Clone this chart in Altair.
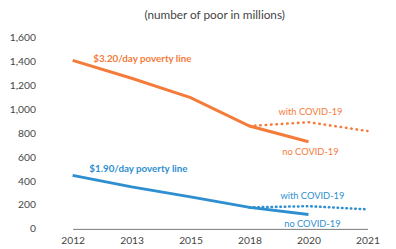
import altair as alt
import pandas as pd

years = ["2012", "2013", "2015", "2018", "2020", "2021"]
orange_base_years = ["2012", "2013", "2015", "2018", "2020"]
orange_base = [1412, 1262, 1100, 862, 730]
orange_covid_years = ["2018", "2020", "2021"]
orange_covid = [862, 894, 820]
blue_base_years = ["2012", "2013", "2015", "2018", "2020"]
blue_base = [448, 352, 268, 180, 120]
blue_covid_years = ["2018", "2020", "2021"]
blue_covid = [180, 190, 164]

label_texts = ["$3.20/day poverty line", "$1.90/day poverty line",
               "with COVID-19", "no COVID-19", "with COVID-19", "no COVID-19"]
label_years = ["2012", "2012", "2020", "2020", "2020", "2020"]
label_values = [1425, 505, 975, 645, 271, 41]
label_series = ["o", "b", "o", "o", "b", "b"]
label_kind = ["title", "title", "note", "note", "note", "note"]

ORANGE = "#F47B3A"
BLUE = "#2E8FD0"
FONT = "Lato"

rows = []
for y, v in zip(orange_base_years, orange_base):
    rows.append({"year": y, "value": v, "series": "o_base"})
for y, v in zip(orange_covid_years, orange_covid):
    rows.append({"year": y, "value": v, "series": "o_covid"})
for y, v in zip(blue_base_years, blue_base):
    rows.append({"year": y, "value": v, "series": "b_base"})
for y, v in zip(blue_covid_years, blue_covid):
    rows.append({"year": y, "value": v, "series": "b_covid"})
df = pd.DataFrame(rows)

labels = pd.DataFrame({"year": label_years, "value": label_values, "text": label_texts,
                       "series": label_series, "kind": label_kind})

xscale = alt.Scale(type="point", domain=years, range=[32, 333], padding=0)
xenc = alt.X("year:O", scale=xscale,
             axis=alt.Axis(title=None, labelAngle=0, ticks=False, domainColor="#777",
                           labelColor="#444", labelFont=FONT, labelFontSize=10.5, labelPadding=7,
                           domainWidth=1))
yenc = alt.Y("value:Q", scale=alt.Scale(domain=[0, 1600]),
             axis=alt.Axis(title=None, values=[0, 200, 400, 600, 800, 1000, 1200, 1400, 1600],
                           format=",.0f", grid=False, domain=False, ticks=False, labelColor="#444",
                           labelFont=FONT, labelFontSize=10.5, labelPadding=6))

def line(series, color, dashed, dash=None):
    kw = dict(strokeWidth=3, color=color)
    if dashed:
        kw.update(strokeDash=dash, strokeCap="round", strokeWidth=2.6)
    return alt.Chart(df).transform_filter(alt.datum.series == series).mark_line(**kw).encode(
        x=xenc, y=yenc)

def text(series, kind, color, bold, align, dx, size):
    return alt.Chart(labels).transform_filter(
        (alt.datum.series == series) & (alt.datum.kind == kind)
    ).mark_text(color=color, font=FONT, fontSize=size, fontWeight="bold" if bold else "normal",
                align=align, baseline="middle", dx=dx).encode(x=xenc, y=yenc, text="text:N")

chart = alt.layer(
    line("o_base", ORANGE, False),
    line("o_covid", ORANGE, True, [0.5, 5]),
    line("b_base", BLUE, False),
    line("b_covid", BLUE, True, [0.5, 4]),
    text("o", "title", ORANGE, True, "left", 21, 10),
    text("b", "title", BLUE, True, "left", 17, 10),
    text("o", "note", ORANGE, False, "center", 2, 9.5),
    text("b", "note", BLUE, False, "center", 4, 9.5),
).properties(
    width=354, height=195,
    title=alt.TitleParams("(number of poor in millions)", font=FONT, fontSize=12,
                          fontWeight="normal", color="#444", anchor="middle", offset=11),
    autosize=alt.AutoSizeParams(type="none"),
    padding={"left": 34, "top": 28, "right": 0, "bottom": 18},
).configure_view(stroke=None)

chart.save("out.html", embed_options={"renderer": "svg", "actions": False})
